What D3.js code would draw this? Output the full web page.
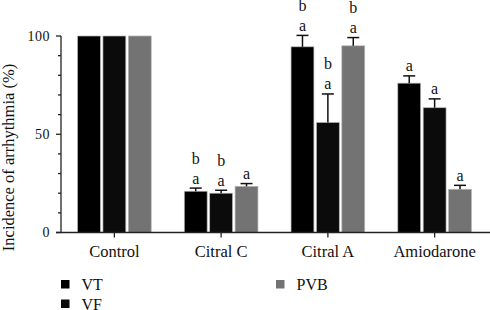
<!DOCTYPE html>
<html>
<head>
<meta charset="utf-8">
<script src="https://cdn.jsdelivr.net/npm/d3@7"></script>
<style>
  body { margin: 0; background: #fff; }
</style>
</head>
<body>
<svg id="chart" width="490" height="310"></svg>
<script>
// values
const categories = ["Control", "Citral C", "Citral A", "Amiodarone"];
const series = ["VT", "VF", "PVB"];
const vtValues = [100, 21, 94.5, 76];
const vfValues = [100, 20, 56, 63.5];
const pvbValues = [100, 23.5, 95, 22];
const vtErrors = [0, 1.6, 5.8, 3.7];
const vfErrors = [0, 1.5, 14.5, 4.5];
const pvbErrors = [0, 1.4, 4.2, 2];
const vtLetters = [[], ["a", "b"], ["a", "b"], ["a"]];
const vfLetters = [[], ["a", "b"], ["a", "b"], ["a"]];
const pvbLetters = [[], ["a"], ["a", "b"], ["a"]];
const yTicks = [0, 50, 100];

const colors = { VT: "#000000", VF: "#0b0b0b", PVB: "#737373" };
const FONT = "'Liberation Serif', 'Times New Roman', Times, 'DejaVu Serif', serif";

const values = { VT: vtValues, VF: vfValues, PVB: pvbValues };
const errors = { VT: vtErrors, VF: vfErrors, PVB: pvbErrors };
const letters = { VT: vtLetters, VF: vfLetters, PVB: pvbLetters };

const rows = [];
categories.forEach((c, i) => {
  series.forEach(s => {
    rows.push({ cat: c, s: s, v: values[s][i], e: errors[s][i], l: letters[s][i] });
  });
});

const svg = d3.select("#chart")
  .attr("font-family", FONT)
  .style("font-family", FONT);

const x0 = d3.scaleBand()
  .domain(categories)
  .range([61, 488])
  .paddingInner(0.31)
  .paddingOuter(0.155);

const x1 = d3.scaleBand()
  .domain(series)
  .range([0, x0.bandwidth()])
  .paddingInner(0.1);

const y = d3.scaleLinear()
  .domain([0, 100])
  .range([232.5, 36]);

// bars
svg.append("g").selectAll("rect")
  .data(rows)
  .enter().append("rect")
  .attr("x", d => x0(d.cat) + x1(d.s))
  .attr("y", d => y(d.v))
  .attr("width", x1.bandwidth())
  .attr("height", d => y(0) - y(d.v))
  .attr("fill", d => colors[d.s])
  .attr("stroke", "#b5b5b5")
  .attr("stroke-width", 0.7);

// error bars
const errRows = rows.filter(d => d.e > 0);
const eg = svg.append("g").attr("stroke", "#111").attr("stroke-width", 1.5);
eg.selectAll("line.v")
  .data(errRows)
  .enter().append("line")
  .attr("x1", d => x0(d.cat) + x1(d.s) + x1.bandwidth() / 2)
  .attr("x2", d => x0(d.cat) + x1(d.s) + x1.bandwidth() / 2)
  .attr("y1", d => y(d.v))
  .attr("y2", d => y(d.v + d.e));
eg.selectAll("line.c")
  .data(errRows)
  .enter().append("line")
  .attr("x1", d => x0(d.cat) + x1(d.s) + x1.bandwidth() / 2 - 6)
  .attr("x2", d => x0(d.cat) + x1(d.s) + x1.bandwidth() / 2 + 6)
  .attr("y1", d => y(d.v + d.e))
  .attr("y2", d => y(d.v + d.e));

// significance letters
rows.forEach(d => {
  d.l.forEach((t, k) => {
    svg.append("text")
      .attr("x", x0(d.cat) + x1(d.s) + x1.bandwidth() / 2)
      .attr("y", y(d.v + d.e) - 4.5 - k * 20)
      .attr("text-anchor", "middle")
      .attr("font-size", 16)
      .attr("fill", "#111")
      .text(t);
  });
});

// y axis
const yAxis = svg.append("g").attr("stroke", "#222").attr("stroke-width", 1.3);
yAxis.append("line")
  .attr("x1", 61).attr("x2", 61)
  .attr("y1", y(0)).attr("y2", y(100));
yAxis.selectAll("line.t")
  .data(d3.range(0, 101, 10))
  .enter().append("line")
  .attr("x1", d => yTicks.includes(d) ? 56 : 58)
  .attr("x2", 61)
  .attr("y1", d => y(d))
  .attr("y2", d => y(d));
svg.append("g").selectAll("text")
  .data(yTicks)
  .enter().append("text")
  .attr("x", 50)
  .attr("y", d => y(d) + 4.5)
  .attr("text-anchor", "end")
  .attr("font-size", 14)
  .attr("letter-spacing", 0.5)
  .attr("fill", "#111")
  .text(d => d);

svg.append("text")
  .attr("transform", "translate(13.5,157.5) rotate(-90)")
  .attr("text-anchor", "middle")
  .attr("font-size", 16.5)
  .attr("fill", "#111")
  .text("Incidence of arrhythmia (%)");

// x axis
const xAxis = svg.append("g").attr("stroke", "#222").attr("stroke-width", 1.3);
xAxis.append("line")
  .attr("x1", 56).attr("x2", 490)
  .attr("y1", y(0)).attr("y2", y(0));
xAxis.selectAll("line.t")
  .data(categories)
  .enter().append("line")
  .attr("x1", d => x0(d) + x0.bandwidth() / 2)
  .attr("x2", d => x0(d) + x0.bandwidth() / 2)
  .attr("y1", y(0))
  .attr("y2", y(0) + 5);
svg.append("g").selectAll("text")
  .data(categories)
  .enter().append("text")
  .attr("x", d => x0(d) + x0.bandwidth() / 2)
  .attr("y", 257)
  .attr("text-anchor", "middle")
  .attr("font-size", 16.5)
  .attr("fill", "#111")
  .text(d => d);

// legend
const legendPos = [
  { s: "VT", x: 61, y: 280 },
  { s: "VF", x: 61, y: 299.5 },
  { s: "PVB", x: 276, y: 280 }
];
const lg = svg.append("g").selectAll("g")
  .data(legendPos)
  .enter().append("g")
  .attr("transform", d => `translate(${d.x},${d.y})`);
lg.append("rect")
  .attr("width", 8.5).attr("height", 8.5)
  .attr("fill", d => colors[d.s]);
lg.append("text")
  .attr("x", 20.5)
  .attr("y", 10)
  .attr("font-size", 16)
  .attr("fill", "#111")
  .text(d => d.s);
</script>
</body>
</html>
